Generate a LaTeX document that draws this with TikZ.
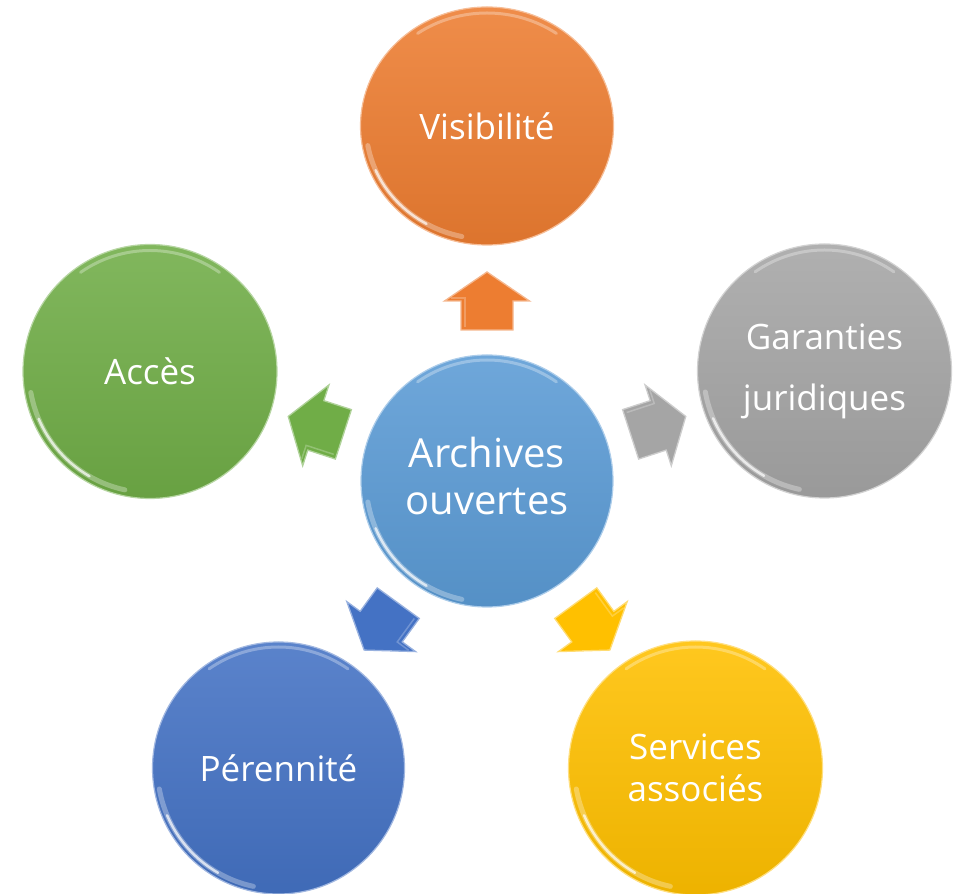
\documentclass[tikz,border=0pt]{standalone}
\usepackage{fontspec}
\setmainfont{Open Sans}
\usetikzlibrary{shapes.geometric,calc}
\definecolor{cCenter}{HTML}{5B9BD5}
\definecolor{cOrange}{HTML}{ED7D31}
\definecolor{cGray}{HTML}{A5A5A5}
\definecolor{cYellow}{HTML}{FFC000}
\definecolor{cBlue}{HTML}{4472C4}
\definecolor{cGreen}{HTML}{70AD47}
\tikzset{
  bubble/.style={circle, inner sep=0pt, minimum size=254pt, text=white, align=center,
    draw=#1!50!white, line width=1.2pt, top color=#1!88!white, bottom color=#1!93!black,
    font=\fontsize{35}{42}\selectfont},
  glosswide/.style={white, line width=5pt, opacity=0.3, line cap=round},
  gloss/.style={white, line width=2.5pt, opacity=0.7, line cap=round},
  glosstop/.style={white, line width=3pt, opacity=0.3, line cap=round},
  arrowbox/.style={fill=#1, draw=#1!55!white, line width=1.3pt, line join=miter},
  arrowshine/.style={#1!70!white, line width=1.5pt, opacity=0.8},
}
\begin{document}
\begin{tikzpicture}[x=1pt,y=1pt]
\useasboundingbox (0,0) rectangle (959,894);

% center
\node[bubble=cCenter, minimum size=252pt, font=\fontsize{40}{47}\selectfont, text depth=11pt] (C) at (487,413) {Archives\\ouvertes};
% outer
\node[bubble=cOrange, ellipse, minimum width=253pt, minimum height=238pt] (V) at (487,768) {Visibilité};
\node[bubble=cGreen] (A) at (150,522.5) {Accès};
\node[bubble=cGray, font=\fontsize{35}{61}\selectfont] (G) at (824.5,523) {Garanties\\juridiques};
\node[bubble=cBlue, minimum size=252pt] (P) at (278.5,126) {Pérennité};
\node[bubble=cYellow] (S) at (695.5,126) {Services\\associés};

% gloss highlights
\foreach \n in {C,A,G,P,S}{
  \draw[glosswide] (\n.center) ++(190:121) arc[start angle=190,end angle=258,radius=121];
  \draw[gloss] (\n.center) ++(203:121) arc[start angle=203,end angle=240,radius=121];
  \draw[glosstop] (\n.center) ++(55:121) arc[start angle=55,end angle=125,radius=121];
}
\draw[glosswide] (V.center) ++(190:{121 and 113}) arc[start angle=190,end angle=258,x radius=121,y radius=113];
\draw[gloss] (V.center) ++(203:{121 and 113}) arc[start angle=203,end angle=240,x radius=121,y radius=113];
\draw[glosstop] (V.center) ++(55:{121 and 113}) arc[start angle=55,end angle=125,x radius=121,y radius=113];

% arrows
\foreach \ang/\col in {90/cOrange,162/cGreen,18/cGray,234/cBlue,306/cYellow}{
  \begin{scope}[shift={($(C.center)+(\ang:180)$)}, rotate=\ang]
    \filldraw[arrowbox=\col] (29,0) -- (0,42.5) -- (0,26) -- (-29,26) -- (-29,-26) -- (0,-26) -- (0,-42.5) -- cycle;
    \draw[arrowshine=\col] (-26,22) -- (3,22) -- (3,36);
  \end{scope}
}
\end{tikzpicture}
\end{document}
